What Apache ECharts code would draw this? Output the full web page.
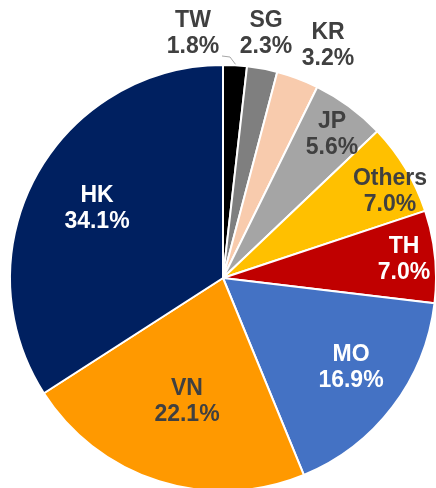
<!DOCTYPE html>
<html>
    <head>
        <meta charset="UTF-8">
        <script src="https://cdn.jsdelivr.net/npm/echarts@6/dist/echarts.min.js"></script>
        <style>
            html, body { margin: 0; padding: 0; background: #fff; }
            #main { width: 436px; height: 488px; }
        </style>
    </head>

    <body>
        <div id="main"></div>
    </body>

    <script>
        // 各地区占比 (顺时针, 从12点开始)
        var regions = ['TW', 'SG', 'KR', 'JP', 'Others', 'TH', 'MO', 'VN', 'HK'];
        var shares = [1.8, 2.3, 3.2, 5.6, 7.0, 7.0, 16.9, 22.1, 34.1];
        var colors = ['#000000', '#7f7f7f', '#f8cbad', '#a5a5a5', '#ffc000', '#c00000', '#4472c4', '#ff9900', '#002060'];
        var labelColors = ['#404040', '#404040', '#404040', '#404040', '#404040', '#ffffff', '#ffffff', '#404040', '#ffffff'];

        // label centres, picked by eye
        var labelXY = [[193, 34], [266, 34], [328, 46], [332, 135], [390, 192], [404, 260], [351, 368], [187, 402], [97, 209]];

        var pieData = [];
        for (var i = 0; i < regions.length; i++) {
            pieData.push({
                name: regions[i],
                value: shares[i],
                itemStyle: { color: colors[i] },
                label: { color: labelColors[i], position: i < 3 ? 'outside' : 'inside' },
                labelLine: { show: i == 0, length: 4, length2: 4 }
            });
        }

        var myChart = echarts.init(document.getElementById('main'), null, { renderer: 'canvas' });
        var option = {
            animation: false,
            series: [
                {
                    type: 'pie',
                    center: [223, 278],
                    radius: 213,
                    startAngle: 90,
                    clockwise: true,
                    avoidLabelOverlap: false,
                    itemStyle: { borderColor: '#ffffff', borderWidth: 2 },
                    label: {
                        show: true,
                        fontFamily: 'Liberation Sans, Arial, sans-serif',
                        fontWeight: 'bold',
                        fontSize: 23,
                        lineHeight: 26,
                        align: 'center',
                        formatter: function (p) {
                            return p.name + '\n' + p.value.toFixed(1) + '%';
                        }
                    },
                    labelLine: {
                        lineStyle: { color: '#a6a6a6', width: 1 }
                    },
                    labelLayout: function (p) {
                        var xy = labelXY[p.dataIndex];
                        var res = { x: xy[0], y: xy[1], align: 'center', verticalAlign: 'middle' };
                        if (p.dataIndex == 0) {
                            res.labelLinePoints = [[222, 56], [230, 57], [236, 65]];
                        }
                        return res;
                    },
                    data: pieData
                }
            ]
        };
        myChart.setOption(option, true);
    </script>
</html>
